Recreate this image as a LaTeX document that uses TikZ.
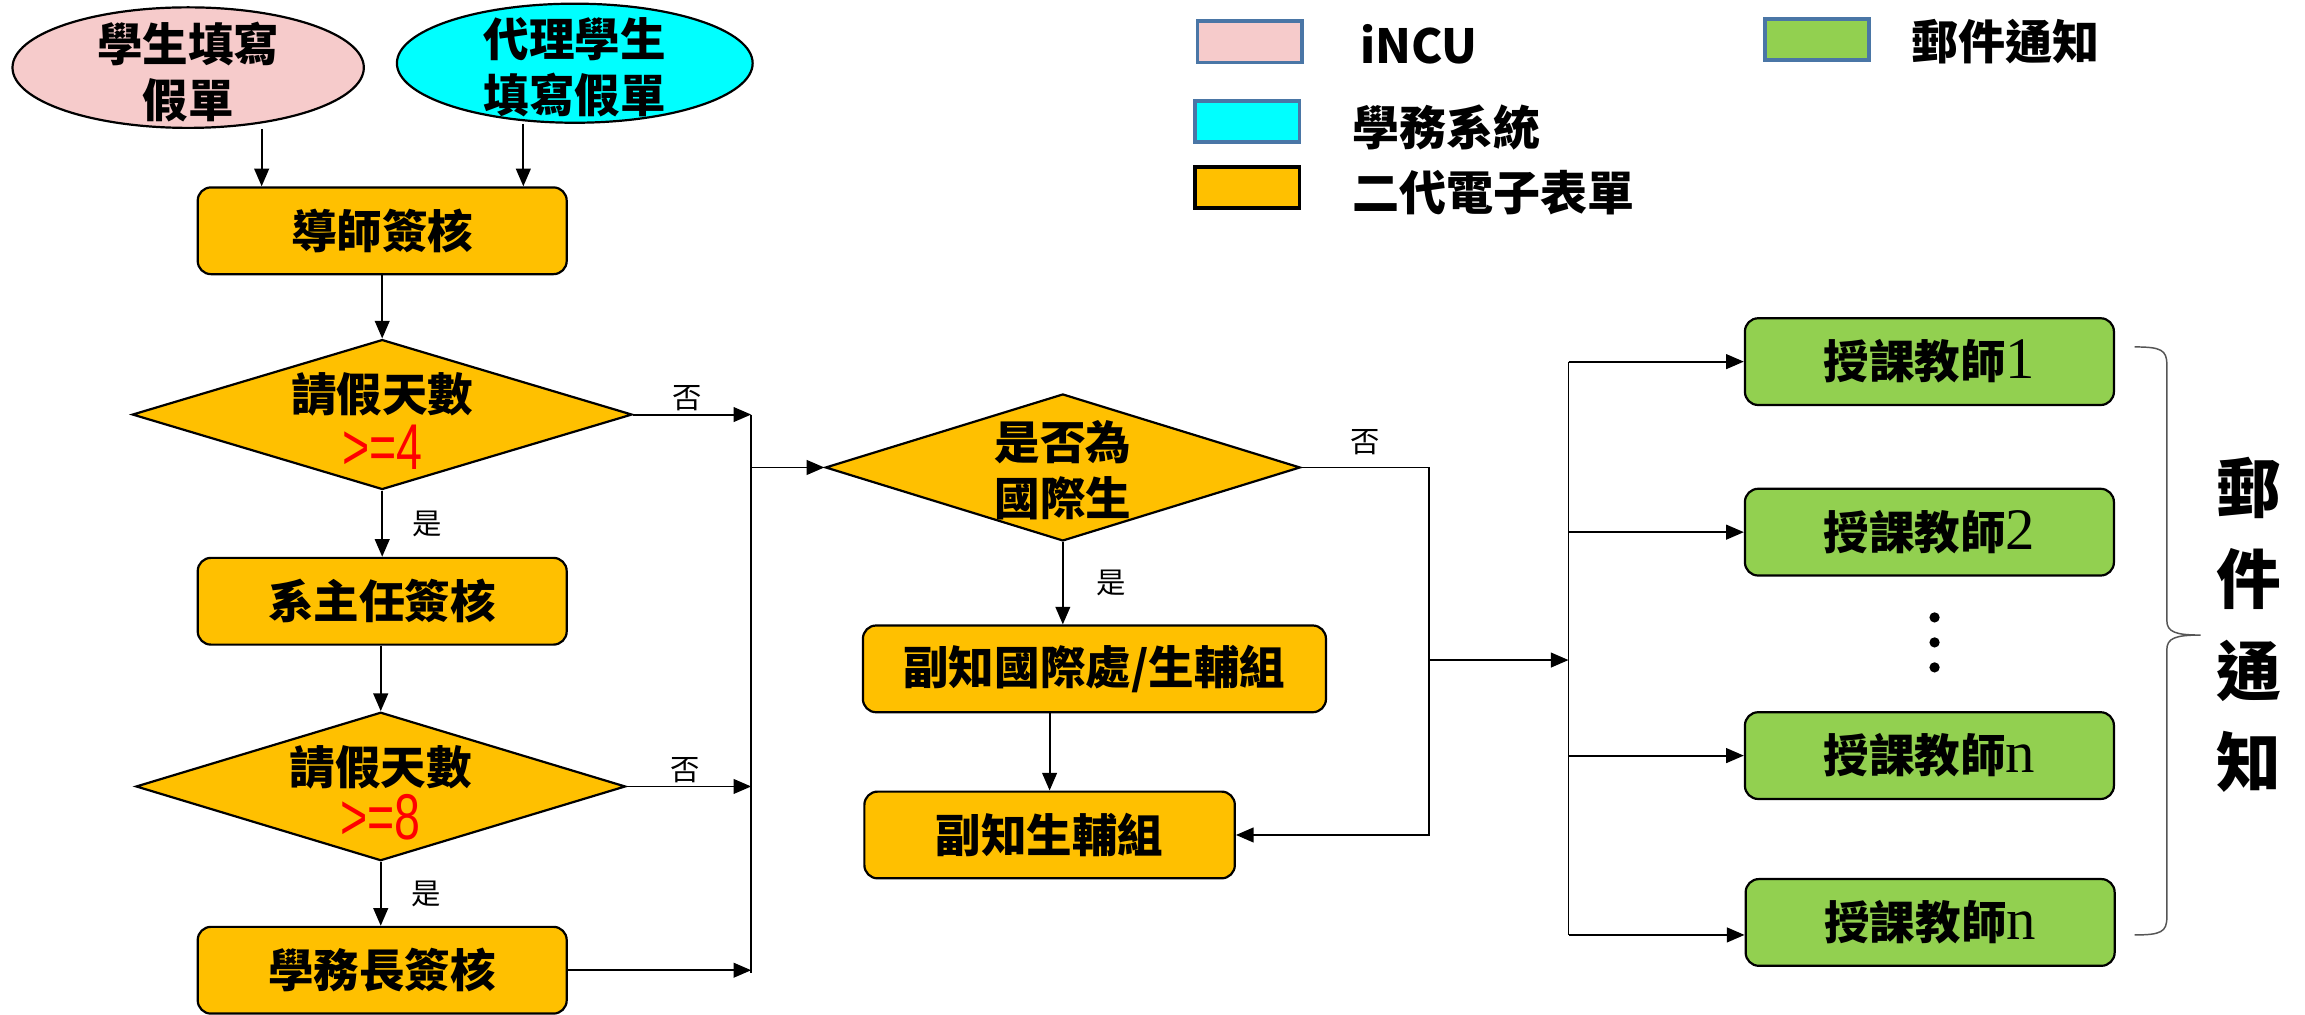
\documentclass[tikz,border=0pt]{standalone}
\usepackage{fontspec}
\usepackage{graphicx}
\newfontfamily\cjk{Noto Sans CJK TC}
\newfontfamily\numfont{Liberation Sans}
\newfontfamily\serifnum{Liberation Serif}
\usetikzlibrary{shapes.geometric, arrows.meta, calc}
\definecolor{orangeC}{HTML}{FFC000}
\definecolor{pinkC}{HTML}{F6CBCB}
\definecolor{cyanC}{HTML}{00FFFF}
\definecolor{greenC}{HTML}{92D050}
\definecolor{legB}{HTML}{4A76A6}
\definecolor{braceC}{HTML}{555555}
\tikzset{
  box/.style={draw, line width=1.5pt, rounded corners=9pt, fill=orangeC, minimum width=251pt, minimum height=59pt, inner sep=0pt, font=\cjk\bfseries\fontsize{31}{34}\selectfont},
  gbox/.style={box, fill=greenC},
  dia/.style={draw, diamond, fill=orangeC, line width=1.5pt, inner sep=0pt},
  oval/.style={draw, ellipse, line width=1.5pt, inner sep=0pt},
  txt/.style={inner sep=0pt, align=center, font=\cjk\bfseries\fontsize{31}{38}\selectfont},
  numred/.style={inner sep=0pt, text=red, font=\numfont\fontsize{44}{44}\selectfont},
  arr/.style={line width=1.3pt, -{Triangle[length=12pt,width=10pt]}},
  ln/.style={line width=1pt},
  lab/.style={font=\cjk\fontsize{20}{20}\selectfont, inner sep=2pt},
  lgbox/.style={draw=legB, line width=2.5pt, minimum width=71pt, minimum height=28pt, inner sep=0pt},
  lgtxt/.style={anchor=west, inner sep=0pt, font=\cjk\bfseries\fontsize{32}{32}\selectfont},
  dig/.style={font=\serifnum\mdseries\fontsize{40}{34}\selectfont},
}
\newcommand{\dg}[1]{{\serifnum\mdseries\fontsize{40}{34}\selectfont #1}}
\begin{document}
\begin{tikzpicture}[x=1pt, y=-1pt]
\path[use as bounding box, fill=white] (0,0) rectangle (1568,690);

% legend
\node[lgbox, fill=pinkC] (lg1) at (850,28.5) {};
\node[lgtxt] (lt1) at (925,30) {iNCU};
\node[lgbox, fill=cyanC] (lg2) at (848.5,82.5) {};
\node[lgtxt] (lt2) at (920,87) {學務系統};
\node[lgbox, fill=orangeC, draw=black] (lg3) at (848.5,127.5) {};
\node[lgtxt] (lt3) at (920,131) {二代電子表單};
\node[lgbox, fill=greenC] (lg4) at (1236,27) {};
\node[lgtxt] (lt4) at (1300,28) {郵件通知};

% ellipses
\node[oval, fill=pinkC, minimum width=239pt, minimum height=82pt] (e1) at (128,46) {};
\node[txt] (e1t) at (128,49) {學生填寫\\假單};
\node[oval, fill=cyanC, minimum width=242pt, minimum height=81pt] (e2) at (391,43) {};
\node[txt] (e2t) at (391,46) {代理學生\\填寫假單};

% left column
\node[box] (b1) at (260,157) {導師簽核};
\node[dia, minimum width=340pt, minimum height=102pt] (d1) at (260,282) {};
\node[txt] (d1t) at ($(d1.center)+(0,-14)$) {請假天數};
\node[numred] (d1n) at ($(d1.center)+(0,22)$) {\scalebox{0.72}[1]{>=4}};
\node[box] (b2) at (260,409) {系主任簽核};
\node[dia, minimum width=333pt, minimum height=101pt] (d2) at (259,535) {};
\node[txt] (d2t) at ($(d2.center)+(0,-13)$) {請假天數};
\node[numred] (d2n) at ($(d2.center)+(0,21)$) {\scalebox{0.72}[1]{>=8}};
\node[box] (b3) at (260,660) {學務長簽核};

% middle column
\node[dia, minimum width=323pt, minimum height=100pt] (d3) at (723,318) {};
\node[txt] (d3t) at ($(d3.center)+(0,2)$) {是否為\\國際生};
\node[box, minimum width=315pt] (b4) at (744.5,455) {副知國際處/生輔組};
\node[box, minimum width=252pt] (b5) at (714,568) {副知生輔組};

% right column
\node[gbox] (g1) at (1312.5,246) {授課教師\dg{1}};
\node[gbox] (g2) at (1312.5,362) {授課教師\dg{2}};
\node[gbox] (g3) at (1312.5,514) {授課教師\dg{n}};
\node[gbox] (g4) at (1313,627.5) {授課教師\dg{n}};
\fill (1316,420) circle (3.5pt);
\fill (1316,437) circle (3.5pt);
\fill (1316,454) circle (3.5pt);

% brace
\draw[line width=1pt, braceC] (1452,236) .. controls (1470,236) and (1474,238) .. (1474,248)
  -- (1474,422) .. controls (1474,430) and (1480,432) .. (1497,432)
  .. controls (1480,432) and (1474,434) .. (1474,442)
  -- (1474,624) .. controls (1474,634) and (1470,636) .. (1452,636);
\node[inner sep=0pt, align=center, font=\cjk\bfseries\fontsize{44}{62}\selectfont] (mail) at (1530,425) {郵\\件\\通\\知};

% connectors
\coordinate (a1) at ($(e1.south)+(50,0)$);
\coordinate (a2) at ($(e2.south)+(-35,0)$);
\draw[arr] (a1) -- (a1 |- b1.north);
\draw[arr] (a2) -- (a2 |- b1.north);
\draw[arr] (b1.south) -- (d1.north);
\draw[arr] (d1.south) -- node[lab, right=18pt]{是} (b2.north);
\draw[arr] (b2.south -| d2.north) -- (d2.north);
\draw[arr] (d2.south) -- node[lab, right=18pt]{是} (d2.south |- b3.north);

\coordinate (bt) at (511,282);
\coordinate (bb) at (511,662);
\draw[ln] (bt) -- (bb);
\draw[arr] (d1.east) -- node[lab, above, pos=0.46]{否} (d1.east -| bt);
\draw[arr] (d2.east) -- node[lab, above, pos=0.47]{否} (d2.east -| bt);
\draw[arr] (b3.east) -- (b3.east -| bt);
\draw[arr] (bt |- d3.west) -- (d3.west);

\coordinate (r1) at (972,318);
\draw[arr] (d3.east) -- node[lab, above=6pt]{否} (d3.east -| r1) -- (r1 |- b5.east) -- (b5.east);
\draw[arr] (d3.south) -- node[lab, right=20pt]{是} (d3.south |- b4.north);
\draw[arr] (b4.south -| b5.north) -- (b5.north);

\coordinate (m) at (972,449);
\coordinate (gb) at (1067,246);
\coordinate (gbb) at (1067,636);
\draw[arr] (m) -- (m -| gb);
\draw[ln] (gb) -- (gbb);
\draw[arr] (gb) -- (g1.west);
\draw[arr] (gb |- g2.west) -- (g2.west);
\draw[arr] (gb |- g3.west) -- (g3.west);
\draw[arr] (gbb) -- (gbb -| g4.west);
\end{tikzpicture}
\end{document}
